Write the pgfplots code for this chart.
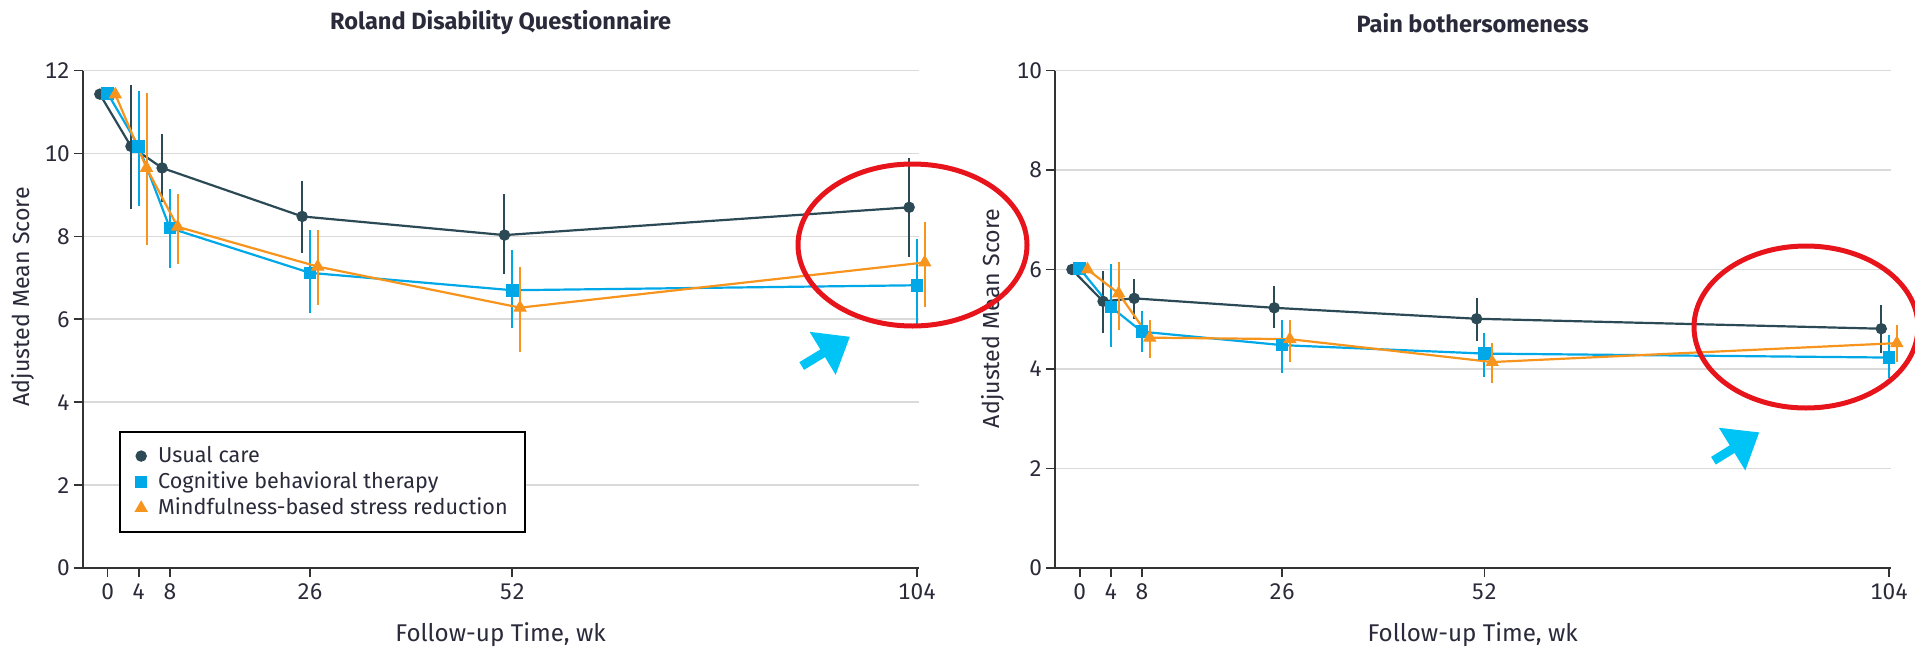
\documentclass[border=0pt]{standalone}
\usepackage{pgfplots}
\usepackage{pgfplotstable}
\pgfplotsset{compat=1.18}
\usepackage{fontspec}
\setmainfont{Fira Sans}[Numbers=Monospaced]
\usetikzlibrary{arrows.meta}
\definecolor{uc}{HTML}{2B4A56}
\definecolor{cbt}{HTML}{00A8E8}
\definecolor{mbsr}{HTML}{F7941D}
\definecolor{axc}{HTML}{333333}
\definecolor{txt}{HTML}{2A2A3A}
\definecolor{gridc}{HTML}{DADADA}
\definecolor{annred}{HTML}{E8141C}
\definecolor{anncyan}{HTML}{00C4F5}

% Roland Disability Questionnaire
\pgfplotstableread{
x y ep em
-1 11.43 0 0
3 10.17 1.48 1.50
7 9.65 0.82 0.81
25 8.48 0.85 0.88
51 8.03 1.00 0.95
103 8.70 1.20 1.20
}\rolUC
\pgfplotstableread{
x y ep em
0 11.45 0 0
4 10.17 1.33 1.44
8 8.20 0.93 0.97
26 7.12 1.03 0.97
52 6.70 0.98 0.92
104 6.82 1.11 1.04
}\rolCBT
\pgfplotstableread{
x y ep em
1 11.42 0 0
5 9.65 1.80 1.85
9 8.23 0.80 0.90
27 7.27 0.88 0.92
53 6.28 0.99 1.06
105 7.37 0.98 1.07
}\rolMB
% Pain bothersomeness
\pgfplotstableread{
x y ep em
-1 6.00 0 0
3 5.36 0.62 0.63
7 5.42 0.39 0.42
25 5.23 0.44 0.41
51 5.01 0.41 0.44
103 4.81 0.47 0.49
}\paiUC
\pgfplotstableread{
x y ep em
0 6.02 0 0
4 5.25 0.86 0.81
8 4.75 0.42 0.40
26 4.48 0.50 0.56
52 4.31 0.41 0.48
104 4.23 0.45 0.41
}\paiCBT
\pgfplotstableread{
x y ep em
1 6.00 0 0
5 5.52 0.63 0.74
9 4.63 0.35 0.40
27 4.60 0.38 0.46
53 4.14 0.38 0.43
105 4.52 0.37 0.38
}\paiMB

\pgfplotsset{
  panel/.style={
    scale only axis, width=417.9pt, height=248.75pt,
    xmin=-3.2, xmax=104.2, ymin=0,
    axis lines=left, axis line style={-, draw=axc, line width=0.9pt},
    xtick={0,4,8,26,52,104},
    tick align=outside, major tick length=4.5pt,
    tick style={draw=axc, line width=0.8pt},
    ymajorgrids, grid style={draw=gridc, line width=0.8pt},
    clip=false,
    /pgf/number format/assume math mode=true,
    ticklabel style={font=\fontsize{11.3}{12}\selectfont, text=txt},
    yticklabel style={inner sep=0pt, xshift=-1.7pt},
    xticklabel style={inner sep=0pt, yshift=-3pt},
    every axis title/.style={at={(axis description cs:0.5,1.0955)}, anchor=center, font=\bfseries\fontsize{11.8}{13}\selectfont, text=txt},
    legend image code/.code={\draw[##1] plot coordinates {(0pt,0pt)};},
  },
  ucs/.style={color=uc, line width=1.1pt, mark=*, mark size=2.6pt, mark options={solid, fill=uc, line width=0.5pt}},
  cbts/.style={color=cbt, line width=1.1pt, mark=square*, mark size=2.9pt, mark options={solid, fill=cbt, line width=0.5pt}},
  mbsrs/.style={color=mbsr, line width=1.1pt, mark=triangle*, mark size=3.4pt, mark options={solid, fill=mbsr, line width=0.5pt}},
  ebar/.style={error bars/y dir=both, error bars/y explicit, error bars/error mark=none, error bars/error bar style={line width=1pt, solid, color=#1}},
}

\begin{document}
\begin{tikzpicture}
\useasboundingbox (0,0) rectangle (957.5pt,325pt);

\begin{axis}[panel, at={(41.35pt,41pt)}, anchor=south west,
  ymax=12, ytick={0,2,4,6,8,10,12},
  title={Roland Disability Questionnaire},
  xlabel={Follow-up Time, wk},
  xlabel style={font=\fontsize{12.1}{13}\selectfont, text=txt, at={(axis description cs:0.5,-0.1347)}, anchor=center},
  ylabel={Adjusted Mean Score},
  ylabel style={font=\fontsize{11.6}{13}\selectfont, text=txt, at={(axis description cs:-0.071,0.545)}, anchor=center},
  legend style={at={(axis description cs:0.0439,0.0704)}, anchor=south west, draw=black, line width=0.9pt, font=\fontsize{10.8}{12}\selectfont, text=txt, inner xsep=7.5pt, inner ysep=5.5pt, row sep=0pt, column sep=4.5pt, nodes={inner sep=1pt, text height=8.5pt, text depth=2.5pt}, cells={anchor=west}},
]
\addplot[ucs, forget plot, ebar=uc] table[x=x, y=y, y error plus=ep, y error minus=em] {\rolUC};
\addplot[cbts, forget plot, ebar=cbt] table[x=x, y=y, y error plus=ep, y error minus=em] {\rolCBT};
\addplot[mbsrs, forget plot, ebar=mbsr] table[x=x, y=y, y error plus=ep, y error minus=em] {\rolMB};
\addlegendimage{ucs}
\addlegendentry{Usual care}
\addlegendimage{cbts}
\addlegendentry{Cognitive behavioral therapy}
\addlegendimage{mbsrs}
\addlegendentry{Mindfulness-based stress reduction}
\end{axis}

\begin{axis}[panel, at={(527.4pt,41pt)}, anchor=south west,
  ymax=10, ytick={0,2,4,6,8,10},
  title={Pain bothersomeness},
  xlabel={Follow-up Time, wk},
  xlabel style={font=\fontsize{12.1}{13}\selectfont, text=txt, at={(axis description cs:0.5,-0.1347)}, anchor=center},
  ylabel={Adjusted Mean Score},
  ylabel style={font=\fontsize{11.6}{13}\selectfont, text=txt, at={(axis description cs:-0.0736,0.5015)}, anchor=center},
]
\addplot[ucs, forget plot, ebar=uc] table[x=x, y=y, y error plus=ep, y error minus=em] {\paiUC};
\addplot[cbts, forget plot, ebar=cbt] table[x=x, y=y, y error plus=ep, y error minus=em] {\paiCBT};
\addplot[mbsrs, forget plot, ebar=mbsr] table[x=x, y=y, y error plus=ep, y error minus=em] {\paiMB};
\end{axis}

% annotations
\draw[annred, line width=2.5pt] (456.25pt,202.5pt) ellipse [x radius=57.25pt, y radius=40.5pt];
\draw[annred, line width=2.5pt] (903pt,161.5pt) ellipse [x radius=56pt, y radius=40.5pt];
\draw[anncyan, line width=4.5pt, -{Triangle[length=16pt, width=24pt]}] (400.85pt,142pt) -- (425pt,156.65pt);
\draw[anncyan, line width=4.5pt, -{Triangle[length=16pt, width=24pt]}] (856.7pt,94.65pt) -- (879.65pt,108.85pt);
\end{tikzpicture}
\end{document}
